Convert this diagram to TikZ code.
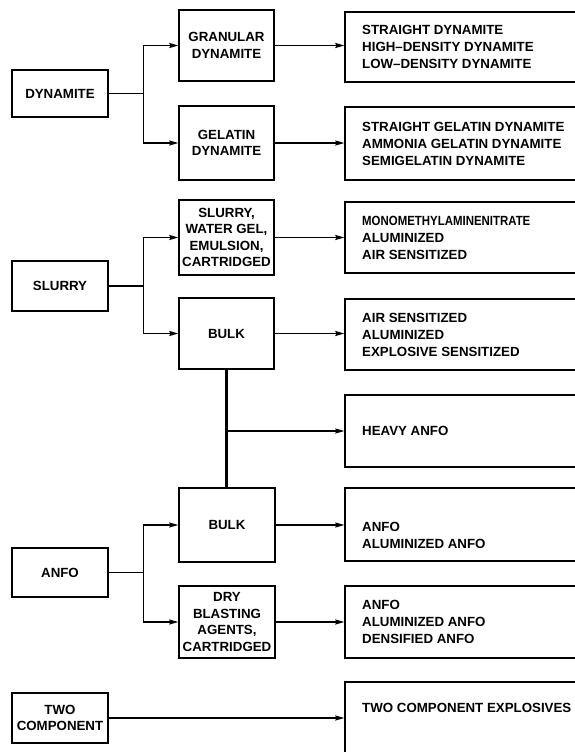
\documentclass[tikz,border=0pt]{standalone}
\usepackage{fontspec}
\setmainfont{Liberation Sans}
\usetikzlibrary{arrows.meta}
\begin{document}
\begin{tikzpicture}[x=1pt,y=-1pt,
  box/.style={draw,line width=1.4pt,rectangle,inner sep=0pt,align=center,
    font=\bfseries\fontsize{13.3}{16.5}\selectfont},
  wbox/.style={draw,line width=1.4pt,rectangle,inner sep=0pt,minimum width=265pt},
  txt/.style={anchor=west,inner sep=0pt,align=left,
    font=\bfseries\fontsize{13.3}{17}\selectfont},
  conn/.style={line width=1.1pt},
  arr/.style={conn,-{Stealth[length=9pt,width=5pt,inset=1pt]}}]
\useasboundingbox (0,0) rectangle (575,752);
\clip (0,0) rectangle (575,752);
\fill[white] (0,0) rectangle (575,752);
% left column
\node[box,minimum width=96pt,minimum height=47pt] (dyn) at (60,93.5) {DYNAMITE};
\node[box,minimum width=96pt,minimum height=50pt] (slurry) at (60,286) {SLURRY};
\node[box,minimum width=96pt,minimum height=49pt] (anfo) at (60,572.5) {ANFO};
\node[box,minimum width=96pt,minimum height=50pt] (two) at (60,718) {TWO\\COMPONENT};
% middle column
\node[box,minimum width=95pt,minimum height=71pt] (gran) at (226.5,45.5) {GRANULAR\\DYNAMITE};
\node[box,minimum width=95pt,minimum height=74pt] (gel) at (226.5,143) {GELATIN\\DYNAMITE};
\node[box,minimum width=95pt,minimum height=75pt] (sws) at (226.5,237.5) {SLURRY,\\WATER GEL,\\EMULSION,\\CARTRIDGED};
\node[box,minimum width=95pt,minimum height=71pt] (bulka) at (226.5,333.5) {BULK};
\node[box,minimum width=96pt,minimum height=74pt] (bulkb) at (227,525) {BULK};
\node[box,minimum width=96pt,minimum height=72pt] (dry) at (227,622) {DRY\\BLASTING\\AGENTS,\\CARTRIDGED};
% right column
\node[wbox,minimum height=70pt] (r1) at (477.5,47) {};
\node[wbox,minimum height=73pt] (r2) at (477.5,143.5) {};
\node[wbox,minimum height=71pt] (r3) at (477.5,237.5) {};
\node[wbox,minimum height=71pt] (r4) at (477.5,334.5) {};
\node[wbox,minimum height=72pt] (r5) at (477.5,431) {};
\node[wbox,minimum height=73pt] (r6) at (477.5,524.5) {};
\node[wbox,minimum height=72pt] (r7) at (477.5,622) {};
\node[wbox,minimum height=74pt] (r8) at (477.5,719) {};
\node[txt] (t1) at (362,47) {STRAIGHT DYNAMITE\\HIGH--DENSITY DYNAMITE\\LOW--DENSITY DYNAMITE};
\node[txt] (t2) at (362,143.5) {STRAIGHT GELATIN DYNAMITE\\AMMONIA GELATIN DYNAMITE\\SEMIGELATIN DYNAMITE};
\node[txt] (t3) at (362,237.5) {\scalebox{0.86}[1]{MONOMETHYLAMINENITRATE}\\ALUMINIZED\\AIR SENSITIZED};
\node[txt] (t4) at (362,334.5) {AIR SENSITIZED\\ALUMINIZED\\EXPLOSIVE SENSITIZED};
\node[txt] (t5) at (362,431) {HEAVY ANFO};
\node[txt] (t6) at (362,535.5) {ANFO\\ALUMINIZED ANFO};
\node[txt] (t7) at (362,622) {ANFO\\ALUMINIZED ANFO\\DENSIFIED ANFO};
\node[txt] (t8) at (362,708) {TWO COMPONENT EXPLOSIVES};
% connectors
\draw[conn] (dyn.east) -- ++(35,0) coordinate (j1);
\draw[arr] (j1) |- (gran.west);
\draw[arr] (j1) |- (gel.west);
\draw[conn] (slurry.east) -- ++(35,0) coordinate (j2);
\draw[arr] (j2) |- (sws.west);
\draw[arr] (j2) |- (bulka.west);
\draw[conn] (anfo.east) -- ++(35,0) coordinate (j3);
\draw[arr] (j3) |- (bulkb.west);
\draw[arr] (j3) |- (dry.west);
\draw[arr] (gran.east) -- (r1.west |- gran.east);
\draw[arr] (gel.east) -- (r2.west |- gel.east);
\draw[arr] (sws.east) -- (r3.west |- sws.east);
\draw[arr] (bulka.east) -- (r4.west |- bulka.east);
\draw[arr] (bulkb.east) -- (r6.west |- bulkb.east);
\draw[arr] (dry.east) -- (r7.west |- dry.east);
\draw[arr] (two.east) -- (r8.west |- two.east);
\draw[line width=2.6pt] (bulka.south) -- (bulka.south |- bulkb.north);
\draw[arr] (bulka.south |- r5.west) -- (r5.west);
\end{tikzpicture}
\end{document}
